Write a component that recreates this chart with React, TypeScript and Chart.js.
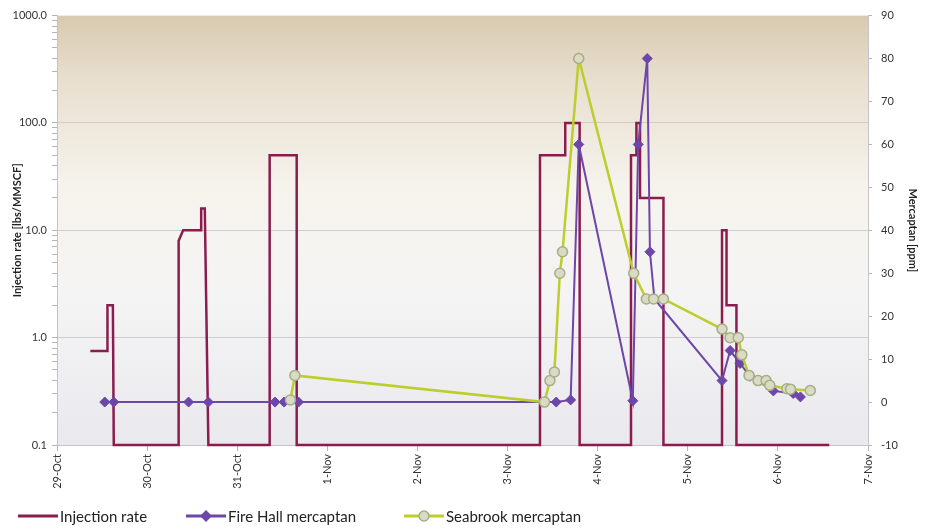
import React, { useEffect, useRef } from 'react';
import { Chart, registerables } from 'chart.js';

Chart.register(...registerables);

// x values: days elapsed since 29-Oct 00:00
const dayLabels = ['29-Oct', '30-Oct', '31-Oct', '1-Nov', '2-Nov', '3-Nov', '4-Nov', '5-Nov', '6-Nov', '7-Nov'];

const injectionDays = [0.37, 0.56, 0.56, 0.62, 0.63, 1.35, 1.35, 1.40, 1.60, 1.60, 1.64, 1.68, 2.36, 2.36, 2.66, 2.66, 5.36, 5.36, 5.64, 5.64, 5.80, 5.80, 6.37, 6.37, 6.43, 6.43, 6.47, 6.47, 6.73, 6.73, 7.38, 7.38, 7.43, 7.43, 7.54, 7.54, 8.57];
const injectionRate = [0.75, 0.75, 2, 2, 0.1, 0.1, 8, 10, 10, 16, 16, 0.1, 0.1, 50, 50, 0.1, 0.1, 50, 50, 100, 100, 0.1, 0.1, 50, 50, 100, 100, 20, 20, 0.1, 0.1, 10, 10, 2, 2, 0.1, 0.1];

const fireHallDays = [0.53, 0.63, 1.46, 1.68, 2.42, 2.52, 2.68, 5.54, 5.70, 5.79, 6.39, 6.45, 6.55, 6.58, 6.63, 7.38, 7.47, 7.58, 7.69, 7.95, 8.17, 8.25];
const fireHallPpm = [0, 0, 0, 0, 0, 0, 0, 0, 0.5, 60, 0.3, 60, 80, 35, 24, 5, 12, 9, 6, 2.6, 2, 1.2];

const seabrookDays = [2.59, 2.64, 5.41, 5.47, 5.52, 5.58, 5.61, 5.79, 6.40, 6.54, 6.62, 6.73, 7.38, 7.47, 7.56, 7.60, 7.68, 7.78, 7.87, 7.91, 8.10, 8.14, 8.36];
const seabrookPpm = [0.5, 6.2, 0, 5, 7, 30, 35, 80, 30, 24, 24, 24, 17, 15, 15, 11, 6.2, 5, 5, 3.9, 3.1, 3, 2.7];

const legendLabels = ['Injection rate', 'Fire Hall mercaptan', 'Seabrook mercaptan'];

const MAROON = '#8a1c4e';
const PURPLE = '#6c46a8';
const GREEN = '#bccd2c';
const GREEN_FILL = '#d9dbc4';
const GREEN_EDGE = '#a7ad84';
const FONT = 'Lato, "Open Sans", sans-serif';

const isMajor = (v: number) => Math.abs(Math.log10(v) - Math.round(Math.log10(v))) < 1e-6;

const bgPlugin = {
  id: 'plotBg',
  beforeDraw(chart: any) {
    const { ctx, chartArea } = chart;
    if (!chartArea) return;
    const g = ctx.createLinearGradient(0, chartArea.top, 0, chartArea.bottom);
    g.addColorStop(0, '#d8cab0');
    g.addColorStop(0.15, '#e8dfcf');
    g.addColorStop(0.4, '#f6f3ed');
    g.addColorStop(0.65, '#f5f4f4');
    g.addColorStop(1, '#e9e9ee');
    ctx.save();
    ctx.fillStyle = g;
    ctx.fillRect(chartArea.left, chartArea.top, chartArea.right - chartArea.left, chartArea.bottom - chartArea.top);
    ctx.restore();
  },
};

const legendPlugin = {
  id: 'customLegend',
  afterDraw(chart: any) {
    const { ctx } = chart;
    const starts = [18, 186, 404];
    const y = 516;
    ctx.save();
    chart.data.datasets.forEach((ds: any, i: number) => {
      const x0 = starts[i];
      ctx.strokeStyle = ds.borderColor;
      ctx.lineWidth = 3;
      ctx.beginPath();
      ctx.moveTo(x0, y);
      ctx.lineTo(x0 + 40, y);
      ctx.stroke();
      if (i === 1) {
        ctx.fillStyle = PURPLE;
        ctx.beginPath();
        ctx.moveTo(x0 + 20, y - 6);
        ctx.lineTo(x0 + 26, y);
        ctx.lineTo(x0 + 20, y + 6);
        ctx.lineTo(x0 + 14, y);
        ctx.closePath();
        ctx.fill();
      } else if (i === 2) {
        ctx.fillStyle = GREEN_FILL;
        ctx.strokeStyle = GREEN_EDGE;
        ctx.lineWidth = 1.5;
        ctx.beginPath();
        ctx.arc(x0 + 20, y, 5, 0, Math.PI * 2);
        ctx.fill();
        ctx.stroke();
      }
      ctx.fillStyle = '#222';
      ctx.font = `15px ${FONT}`;
      ctx.textBaseline = 'middle';
      ctx.textAlign = 'left';
      ctx.fillText(legendLabels[i], x0 + 42, y + 1);
    });
    ctx.restore();
  },
};

export default function App() {
  const ref = useRef<HTMLCanvasElement | null>(null);

  useEffect(() => {
    document.body.style.margin = '0';
    const canvas = ref.current;
    if (!canvas) return;
    const chart = new Chart(canvas, {
      type: 'line',
      data: {
        datasets: [
          {
            label: legendLabels[0],
            data: injectionDays.map((d, i) => ({ x: d, y: injectionRate[i] })),
            borderColor: MAROON,
            backgroundColor: MAROON,
            borderWidth: 2.5,
            pointRadius: 0,
            tension: 0,
            yAxisID: 'y',
            order: 3,
            clip: 5,
          },
          {
            label: legendLabels[1],
            data: fireHallDays.map((d, i) => ({ x: d, y: fireHallPpm[i] })),
            borderColor: PURPLE,
            backgroundColor: PURPLE,
            borderWidth: 2,
            pointStyle: 'rectRot',
            pointRadius: 5,
            pointBackgroundColor: PURPLE,
            pointBorderColor: PURPLE,
            pointBorderWidth: 1,
            tension: 0,
            yAxisID: 'y1',
            order: 2,
            clip: 8,
          },
          {
            label: legendLabels[2],
            data: seabrookDays.map((d, i) => ({ x: d, y: seabrookPpm[i] })),
            borderColor: GREEN,
            backgroundColor: GREEN_FILL,
            borderWidth: 2.5,
            pointStyle: 'circle',
            pointRadius: 5,
            pointBackgroundColor: GREEN_FILL,
            pointBorderColor: GREEN_EDGE,
            pointBorderWidth: 1.5,
            tension: 0,
            yAxisID: 'y1',
            order: 1,
            clip: 8,
          },
        ],
      },
      options: {
        responsive: false,
        animation: false,
        layout: { padding: { top: 13, left: 0, right: 0, bottom: 0 } },
        plugins: {
          legend: { display: false },
          tooltip: { enabled: false },
          title: { display: false },
        },
        scales: {
          x: {
            type: 'linear',
            min: 0,
            max: 9,
            afterFit: (s: any) => { s.height = 84; },
            ticks: {
              stepSize: 1,
              autoSkip: false,
              maxRotation: 90,
              minRotation: 90,
              padding: 3,
              color: '#333',
              font: { family: FONT, size: 11 },
              callback: (v: any) => dayLabels[Math.round(v)] ?? '',
            },
            grid: { drawOnChartArea: false, tickLength: 6, color: '#b5b5b5' },
            border: { color: '#c4c4c4' },
          },
          y: {
            type: 'logarithmic',
            position: 'left',
            min: 0.1,
            max: 1000,
            afterFit: (s: any) => { s.width = 57; },
            afterBuildTicks: (s: any) => {
              const t: any[] = [];
              for (let e = -1; e < 3; e++) {
                for (let m = 1; m < 10; m++) t.push({ value: +(m * Math.pow(10, e)).toPrecision(3) });
              }
              t.push({ value: 1000 });
              s.ticks = t;
            },
            ticks: {
              autoSkip: false,
              padding: 5,
              color: '#333',
              font: { family: FONT, size: 11 },
              callback: (v: any) => (isMajor(Number(v)) ? Number(v).toFixed(1) : ''),
            },
            grid: {
              tickLength: 5,
              color: (c: any) => {
                if (!c.tick || !isMajor(c.tick.value) || c.tick.value <= 0.1 || c.tick.value >= 1000) return 'rgba(0,0,0,0)';
                return c.tick.value >= 100 ? 'rgba(190,180,170,0.5)' : '#cdcdcd';
              },
              tickColor: '#b5b5b5',
            },
            border: { color: '#c4c4c4' },
            title: {
              display: true,
              text: 'Injection rate [lbs/MMSCF]',
              color: '#222',
              font: { family: FONT, size: 11, weight: 'bold' },
              padding: { top: 11, bottom: 0 },
            },
          },
          y1: {
            type: 'linear',
            position: 'right',
            min: -10,
            max: 90,
            afterFit: (s: any) => { s.width = 62; },
            ticks: {
              stepSize: 10,
              padding: 9,
              color: '#333',
              font: { family: FONT, size: 11 },
            },
            grid: { drawOnChartArea: false, tickLength: 4, color: '#b5b5b5' },
            border: { color: '#c4c4c4' },
            title: {
              display: true,
              text: 'Mercaptan [ppm]',
              color: '#222',
              font: { family: FONT, size: 11, weight: 'bold' },
              padding: { top: 11, bottom: 0 },
            },
          },
        },
      } as any,
      plugins: [bgPlugin, legendPlugin],
    });
    return () => chart.destroy();
  }, []);

  return (
    <div style={{ width: 930, height: 529 }}>
      <canvas ref={ref} width={930} height={529} style={{ display: 'block' }} />
    </div>
  );
}
